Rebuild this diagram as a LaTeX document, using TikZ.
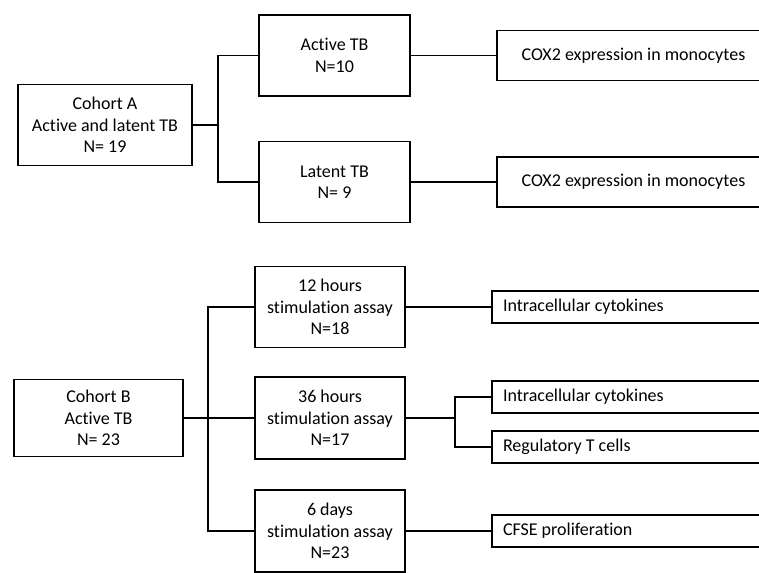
\documentclass[tikz,border=0pt]{standalone}
\usepackage{fontspec}
\setmainfont[Ligatures=NoCommon]{Carlito}

\tikzset{
	box/.style = {draw, line width=1.8pt, align=center, inner sep=0pt,
		minimum width=151pt, minimum height=81pt, font=\fontsize{18}{21.5}\selectfont},
	outbox/.style = {draw, line width=1.8pt, align=flush left, inner xsep=11pt, inner ysep=0pt,
		text width=298pt, minimum height=32pt, font=\fontsize{18}{21}\selectfont},
	link/.style = {line width=1.8pt, line join=miter}
}

\begin{document}
\begin{tikzpicture}[x=1pt,y=-1pt]
	\useasboundingbox (0,0) rectangle (759,572);
	\clip (0,0) rectangle (759,572);
	% cohort A
	\node[box, minimum width=174pt] (cohA) at (105,125) {Cohort A\\Active and latent TB\\N= 19};
	\node[box] (actTB) at (334.5,55.5) {Active TB\\N=10};
	\node[box] (latTB) at (334.5,182) {Latent TB\\N= 9};
	\node[box, minimum width=273pt, minimum height=50pt] (coxA) at (633.5,55.5) {COX2 expression in monocytes};
	\node[box, minimum width=273pt, minimum height=50pt] (coxL) at (633.5,182) {COX2 expression in monocytes};
	\coordinate (fa) at (218,125);
		\draw[link] (cohA.east) -- (fa);
		\draw[link] (actTB.west) -| (fa) |- (latTB.west);
		\draw[link] (actTB.east) -- (coxA.west);
		\draw[link] (latTB.east) -- (coxL.west);
	% cohort B
	\node[box, minimum width=169pt, minimum height=77pt] (cohB) at (98.5,418) {Cohort B\\Active TB\\N= 23};
	\node[box, minimum width=150pt] (h12) at (330,307) {12 hours\\stimulation assay\\N=18};
	\node[box, minimum width=150pt, minimum height=82pt] (h36) at (330,418) {36 hours\\stimulation assay\\N=17};
	\node[box, minimum width=150pt, minimum height=82pt] (d6) at (330,531) {6 days\\stimulation assay\\N=23};
	\node[outbox] (ic12) at (652,307) {Intracellular cytokines};
	\node[outbox] (ic36) at (652,397) {Intracellular cytokines};
	\node[outbox] (treg) at (652,447) {Regulatory T cells};
	\node[outbox] (cfse) at (652,531) {CFSE proliferation};
	\coordinate (fb) at (208,418);
	\coordinate (fc) at (455,418);
		\draw[link] (cohB.east) -- (h36.west);
		\draw[link] (h12.west) -| (fb) |- (d6.west);
		\draw[link] (h12.east) -- (ic12.west);
		\draw[link] (h36.east) -- (fc);
		\draw[link] (ic36.west) -| (fc) |- (treg.west);
		\draw[link] (d6.east) -- (cfse.west);
\end{tikzpicture}
\end{document}
